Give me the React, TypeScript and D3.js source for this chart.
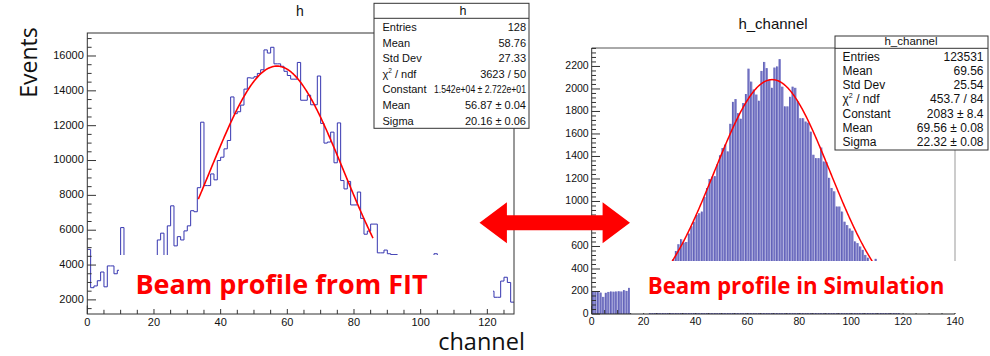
import React from "react";
import * as d3 from "d3";

// ---------------- data ----------------
// Left: beam profile measured with FIT (128 channels, step histogram)
const fitCounts = [
  4900, 2700, 2800, 3100, 3600, 2750, 3950, 3950, 3500, 3700,
  6150, 4300, 4100, 4400, 3900, 4200, 4450, 4000, 4300, 4400,
  4350, 5440, 5830, 4200, 6250, 7400, 5100, 5630, 5440, 5960,
  6250, 7120, 7060, 8440, 12200, 8560, 8560, 9230, 8890, 10000,
  10190, 10670, 11150, 13650, 12690, 12800, 13180, 14100, 14750, 14730,
  14810, 15000, 15210, 16350, 16170, 16500, 15550, 15550, 15410, 15120,
  14880, 14670, 14670, 15630, 13460, 13460, 13750, 13200, 13200, 14850,
  12130, 11000, 11060, 11630, 9870, 12160, 8850, 8370, 8800, 7450,
  7450, 8190, 6680, 5770, 5950, 6350, 6350, 4700, 4700, 4860,
  4650, 4600, 4600, 4400, 4250, 4450, 4300, 4100, 4350, 4200,
  3950, 4150, 4300, 4000, 4650, 3900, 4100, 3700, 3850, 3600,
  3400, 3650, 3300, 3450, 3100, 3250, 2950, 3100, 2800, 2900,
  2600, 2500, 2150, 2150, 3080, 3300, 3000, 1870,
];
// Right: beam profile in simulation (140 channels, bar histogram)
const simCounts = [
  198, 200, 195, 190, 152, 188, 196, 200, 198, 200,
  202, 200, 212, 205, 232, 0, 0, 0, 0, 0,
  0, 0, 190, 230, 260, 290, 320, 360, 390, 430,
  455, 485, 560, 620, 665, 635, 640, 715, 780, 820,
  880, 895, 910, 1040, 1120, 1200, 1220, 1225, 1330, 1410,
  1475, 1505, 1445, 1690, 1885, 1910, 1785, 1735, 1875, 1955,
  2180, 2065, 1995, 1950, 1895, 2160, 2240, 2185, 2080, 2010,
  2190, 2200, 2265, 2020, 1845, 1845, 1930, 2020, 2010, 1890,
  1740, 1740, 1710, 1700, 1620, 1415, 1385, 1385, 1480, 1355,
  1350, 1210, 1120, 1090, 955, 955, 910, 820, 790, 760,
  740, 645, 630, 600, 570, 525, 500, 470, 440, 490,
  380, 340, 300, 270, 230, 200, 170, 140, 120, 0,
  0, 0, 0, 0, 0, 0, 0, 0, 0, 0,
  0, 0, 0, 0, 0, 0, 0, 0, 0, 0,
];

const fitXTicks = [0, 20, 40, 60, 80, 100, 120];
const fitYTicks = [2000, 4000, 6000, 8000, 10000, 12000, 14000, 16000];
const simXTicks = [0, 20, 40, 60, 80, 100, 120, 140];
const simYTicks = [0, 200, 400, 600, 800, 1000, 1200, 1400, 1600, 1800, 2000, 2200];

// Gaussian fit parameters [constant, mean, sigma] and drawn range
const fitGaus = [15420, 56.87, 20.16];
const fitGausRange = [33.3, 85.8];
const simGaus = [2083, 69.56, 22.32];
const simGausRange = [20, 120];

const fitStatsLabels = ["Entries", "Mean", "Std Dev", "CHI", "Constant", "Mean", "Sigma"];
const fitStatsValues = ["128", "58.76", "27.33", "3623 / 50", "1.542e+04 ± 2.722e+01", "56.87 ± 0.04", "20.16 ± 0.06"];
const simStatsLabels = ["Entries", "Mean", "Std Dev", "CHI", "Constant", "Mean", "Sigma"];
const simStatsValues = ["123531", "69.56", "25.54", "453.7 / 84", "2083 ± 8.4", "69.56 ± 0.08", "22.32 ± 0.08"];

// ---------------- layout ----------------
const W = 990;
const H = 356;
const L = { x0: 87.3, x1: 514, y0: 33, y1: 314 };
const R = { x0: 591.7, x1: 955, y0: 48, y1: 314 };
const ROOT_FONT = "'Liberation Sans', Arial, Helvetica, sans-serif";
const SLIDE_FONT = "'Open Sans', 'Noto Sans', sans-serif";

const lx = d3.scaleLinear().domain([0, 128]).range([L.x0, L.x1]);
const ly = d3.scaleLinear().domain([1190, 17320]).range([L.y1, L.y0]);
const rx = d3.scaleLinear().domain([0, 140]).range([R.x0, R.x1]);
const ry = d3.scaleLinear().domain([0, 2364]).range([R.y1, R.y0]);

const gaus = (p: number[]) => (x: number) => p[0] * Math.exp(-0.5 * ((x - p[1]) / p[2]) ** 2);

function stepPath(values: number[]) {
  const pts: [number, number][] = [];
  values.forEach((v, i) => {
    pts.push([i, v]);
    pts.push([i + 1, v]);
  });
  return d3
    .line<[number, number]>()
    .x((d) => lx(d[0]))
    .y((d) => ly(d[1]))(pts) as string;
}

function fitPath(p: number[], range: number[], xs: d3.ScaleLinear<number, number>, ys: d3.ScaleLinear<number, number>) {
  const f = gaus(p);
  const samples = d3.range(range[0], range[1] + 0.001, 0.2);
  return d3
    .line<number>()
    .x((d) => xs(d))
    .y((d) => ys(f(d)))(samples) as string;
}

function StatLabel({ label, x, y, size }: { label: string; x: number; y: number; size: number }) {
  if (label === "CHI") {
    return (
      <text x={x} y={y} fontSize={size} dominantBaseline="middle">
        χ
        <tspan fontSize={size * 0.6} dy={-size * 0.35}>2</tspan>
        <tspan dy={size * 0.35}> / ndf</tspan>
      </text>
    );
  }
  return (
    <text x={x} y={y} fontSize={size} dominantBaseline="middle">
      {label}
    </text>
  );
}

export default function App() {
  const leftMinor = d3.range(1500, 17001, 500);
  const leftXMinor = d3.range(0, 129, 5);
  const rightMinor = d3.range(0, 2361, 40);
  const rightXMinor = d3.range(0, 141, 5);

  // arrow geometry
  const aL = 479.5, aR = 630, aCy = 222.7, aHead = 27.4, aHH = 20.5, aSH = 7.5;
  const arrowPts = [
    [aL, aCy], [aL + aHead, aCy - aHH], [aL + aHead, aCy - aSH], [aR - aHead, aCy - aSH],
    [aR - aHead, aCy - aHH], [aR, aCy], [aR - aHead, aCy + aHH], [aR - aHead, aCy + aSH],
    [aL + aHead, aCy + aSH], [aL + aHead, aCy + aHH],
  ].map((p) => p.join(",")).join(" ");

  return (
    <svg
      width={W}
      height={H}
      viewBox={`0 0 ${W} ${H}`}
      style={{ position: "absolute", left: 0, top: 0, background: "#fff" }}
      fontFamily={ROOT_FONT}
    >
      <defs>
        <clipPath id="clipL">
          <rect x={L.x0} y={L.y0} width={L.x1 - L.x0} height={L.y1 - L.y0} />
        </clipPath>
        <clipPath id="clipR">
          <rect x={R.x0} y={R.y0} width={R.x1 - R.x0} height={R.y1 - R.y0} />
        </clipPath>
      </defs>
      <rect width={W} height={H} fill="#fff" />

      {/* ---------- LEFT PLOT ---------- */}
      <text x={300} y={12} fontSize={14} textAnchor="middle" dominantBaseline="middle" fill="#111">h</text>
      <g clipPath="url(#clipL)">
        <path d={stepPath(fitCounts)} fill="none" stroke="#3636b0" strokeWidth={1} />
        <path d={fitPath(fitGaus, fitGausRange, lx, ly)} fill="none" stroke="#ff0000" strokeWidth={1.6} />
      </g>
      <rect x={L.x0} y={L.y0} width={L.x1 - L.x0} height={L.y1 - L.y0} fill="none" stroke="#333" strokeWidth={1} />
      {leftMinor.map((v) => (
        <line key={"lym" + v} x1={L.x0} x2={L.x0 + (v % 2000 === 0 ? 8.7 : 4.3)} y1={ly(v)} y2={ly(v)} stroke="#333" />
      ))}
      {fitYTicks.map((v) => (
        <text key={"lyt" + v} x={L.x0 - 3.5} y={ly(v)} fontSize={11} textAnchor="end" dominantBaseline="middle" fill="#111">
          {v}
        </text>
      ))}
      {leftXMinor.map((v) => (
        <line key={"lxm" + v} x1={lx(v)} x2={lx(v)} y1={L.y1} y2={L.y1 - (v % 20 === 0 ? 8.5 : 4.2)} stroke="#333" />
      ))}
      {fitXTicks.map((v) => (
        <text key={"lxt" + v} x={lx(v)} y={323.5} fontSize={11} textAnchor="middle" dominantBaseline="middle" fill="#111">
          {v}
        </text>
      ))}

      {/* ---------- RIGHT PLOT ---------- */}
      <text x={773} y={25} fontSize={15} textAnchor="middle" dominantBaseline="middle" fill="#111">h_channel</text>
      <g clipPath="url(#clipR)">
        {simCounts.map((v, i) =>
          v > 0 ? (
            <g key={"bar" + i}>
              <rect x={rx(i) + 0.25} y={ry(v)} width={rx(i + 1) - rx(i) - 0.5} height={R.y1 - ry(v)} fill="#8282cc" />
              <line x1={rx(i) + 0.6} x2={rx(i) + 0.6} y1={ry(v)} y2={R.y1} stroke="#5656b0" strokeWidth={0.8} />
            </g>
          ) : null
        )}
        <path d={fitPath(simGaus, simGausRange, rx, ry)} fill="none" stroke="#ff0000" strokeWidth={1.5} />
      </g>
      <line x1={R.x0} x2={R.x1} y1={R.y0} y2={R.y0} stroke="#555" />
      <line x1={R.x1} x2={R.x1} y1={R.y0} y2={R.y1} stroke="#999" />
      <line x1={R.x0} x2={R.x0} y1={R.y0} y2={R.y1} stroke="#333" />
      <line x1={R.x0} x2={R.x1} y1={R.y1} y2={R.y1} stroke="#222" />
      {rightMinor.map((v) => (
        <line key={"rym" + v} x1={R.x0} x2={R.x0 + (v % 200 === 0 ? 8.3 : 4.3)} y1={ry(v)} y2={ry(v)} stroke="#333" />
      ))}
      {simYTicks.map((v) => (
        <text key={"ryt" + v} x={R.x0 - 3} y={ry(v)} fontSize={10.5} textAnchor="end" dominantBaseline="middle" fill="#111">
          {v}
        </text>
      ))}
      {rightXMinor.map((v) => (
        <line key={"rxm" + v} x1={rx(v)} x2={rx(v)} y1={R.y1} y2={R.y1 - (v % 20 === 0 ? 8 : 4)} stroke="#333" />
      ))}
      {simXTicks.map((v) => (
        <text key={"rxt" + v} x={rx(v)} y={322} fontSize={10.5} textAnchor="middle" dominantBaseline="middle" fill="#111">
          {v}
        </text>
      ))}

      {/* ---------- STATS BOXES ---------- */}
      <g fill="#111">
        <rect x={374} y={3.3} width={155} height={125} fill="#fff" stroke="#333" />
        <line x1={374} x2={529} y1={18.3} y2={18.3} stroke="#333" />
        <text x={463} y={11.5} fontSize={12.5} textAnchor="middle" dominantBaseline="middle">h</text>
        {fitStatsLabels.map((lab, i) => (
          <StatLabel key={"fl" + i} label={lab} x={382.5} y={28.3 + i * 15.55} size={11} />
        ))}
        {fitStatsValues.map((val, i) => (
          <text
            key={"fv" + i}
            x={526}
            y={28.3 + i * 15.55}
            fontSize={11}
            textAnchor="end"
            dominantBaseline="middle"
            {...(val.length > 14 ? { textLength: 92, lengthAdjust: "spacingAndGlyphs" } : {})}
          >
            {val}
          </text>
        ))}
      </g>
      <g fill="#111">
        <rect x={835} y={36} width={153} height={114} fill="#fff" stroke="#333" />
        <line x1={835} x2={988} y1={48.3} y2={48.3} stroke="#333" />
        <text x={911} y={42.3} fontSize={11.5} textAnchor="middle" dominantBaseline="middle">h_channel</text>
        {simStatsLabels.map((lab, i) => (
          <StatLabel key={"sl" + i} label={lab} x={842.5} y={57.7 + i * 14.17} size={12} />
        ))}
        {simStatsValues.map((val, i) => (
          <text key={"sv" + i} x={983.5} y={57.7 + i * 14.17} fontSize={12} textAnchor="end" dominantBaseline="middle">
            {val}
          </text>
        ))}
      </g>

      {/* ---------- SLIDE OVERLAYS ---------- */}
      <rect x={119} y={255} width={374} height={54} fill="#fff" />
      <text x={281.5} y={294} fontSize={27} fontWeight="bold" fill="#ff0000" textAnchor="middle" fontFamily={SLIDE_FONT}>
        Beam profile from FIT
      </text>
      <rect x={630} y={261} width={327} height={52} fill="#fff" />
      <text x={796} y={294} fontSize={22.3} fontWeight="bold" fill="#ff0000" textAnchor="middle" fontFamily={SLIDE_FONT}>
        Beam profile in Simulation
      </text>
      <polygon points={arrowPts} fill="#ff0000" />
      <text
        transform="translate(37,62.5) rotate(-90)"
        fontSize={23}
        textAnchor="middle"
        fill="#111"
        fontFamily={SLIDE_FONT}
      >
        Events
      </text>
      <text x={481.5} y={349.5} fontSize={23.5} textAnchor="middle" fill="#111" fontFamily={SLIDE_FONT}>
        channel
      </text>
    </svg>
  );
}
